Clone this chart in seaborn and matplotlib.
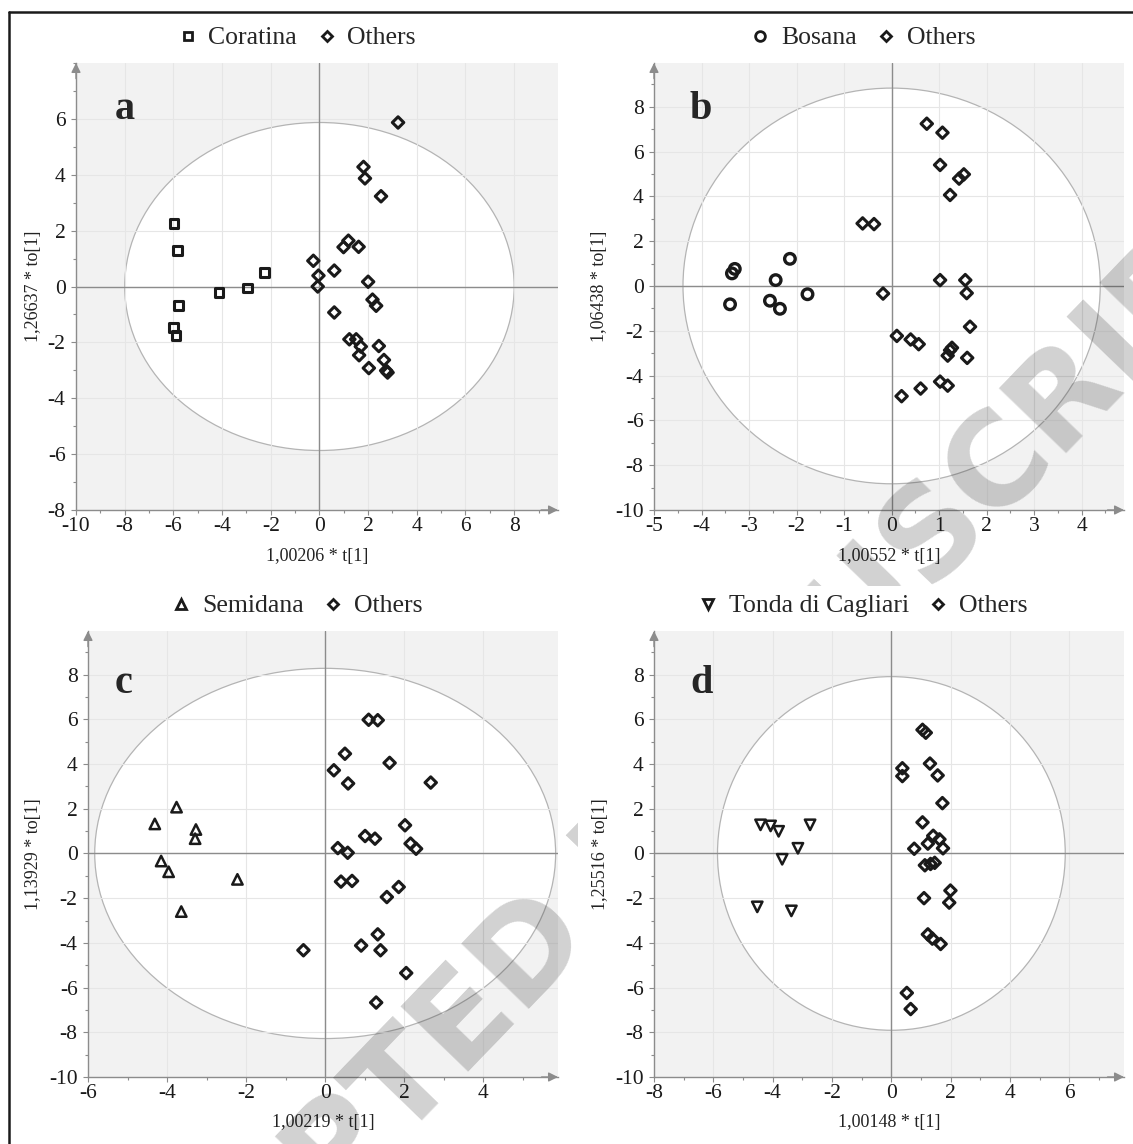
import matplotlib
matplotlib.use("Agg")
import pandas as pd
import matplotlib.pyplot as plt
import seaborn as sns
from matplotlib.patches import Ellipse, Rectangle
from matplotlib.lines import Line2D
from matplotlib.ticker import MultipleLocator

# ---- data ----
# a: Coratina vs others
cor_x = [-5.97, -5.82, -5.79, -6.00, -5.90, -4.12, -2.95, -2.25]
cor_y = [2.26, 1.28, -0.69, -1.46, -1.76, -0.21, -0.05, 0.50]
oth_a_x = [3.23, 1.81, 1.87, 2.53, 1.19, 0.99, 1.61, -0.25, -0.04, -0.07, 0.61, 2.00,
           2.18, 2.33, 0.61, 1.23, 1.51, 1.70, 1.63, 2.44, 2.65, 2.03, 2.74, 2.80]
oth_a_y = [5.87, 4.28, 3.87, 3.23, 1.64, 1.41, 1.42, 0.92, 0.39, 0.00, 0.57, 0.17,
           -0.47, -0.69, -0.93, -1.89, -1.89, -2.15, -2.46, -2.13, -2.63, -2.92, -3.01, -3.08]

# b: Bosana vs others
bos_x = [-3.40, -3.36, -3.30, -2.44, -2.14, -2.56, -2.35, -1.77]
bos_y = [-0.82, 0.56, 0.76, 0.26, 1.21, -0.66, -1.02, -0.37]
oth_b_x = [0.74, 1.07, 1.02, 1.52, 1.42, 1.23, -0.61, -0.37, -0.18, 1.02, 1.55, 1.58,
           1.65, 0.11, 0.40, 0.57, 1.27, 1.23, 1.18, 1.59, 1.02, 1.18, 0.61, 0.21]
oth_b_y = [7.24, 6.84, 5.40, 4.98, 4.79, 4.06, 2.79, 2.76, -0.34, 0.26, 0.26, -0.32,
           -1.82, -2.23, -2.39, -2.60, -2.76, -2.87, -3.11, -3.21, -4.27, -4.45, -4.58, -4.92]

# c: Semidana vs others
sem_x = [-4.31, -3.76, -3.27, -3.29, -4.15, -3.96, -3.64, -2.22]
sem_y = [1.32, 2.07, 1.07, 0.66, -0.34, -0.82, -2.60, -1.16]
oth_c_x = [1.10, 1.33, 0.50, 1.63, 0.22, 0.58, 2.67, 2.02, 1.01, 1.26, 2.16, 2.30,
           0.32, 0.57, 0.40, 0.68, 1.86, 1.56, -0.55, 0.91, 1.33, 1.40, 2.05, 1.29]
oth_c_y = [5.98, 5.96, 4.46, 4.05, 3.72, 3.13, 3.17, 1.26, 0.78, 0.66, 0.44, 0.21,
           0.24, 0.03, -1.26, -1.23, -1.50, -1.95, -4.33, -4.12, -3.62, -4.33, -5.35, -6.67]

# d: Tonda di Cagliari vs others
ton_x = [-4.41, -4.07, -3.80, -2.74, -3.15, -3.68, -4.52, -3.37]
ton_y = [1.28, 1.23, 0.99, 1.28, 0.23, -0.26, -2.39, -2.57]
oth_d_x = [1.05, 1.16, 0.37, 0.37, 1.30, 1.56, 1.72, 1.05, 1.41, 1.62, 1.23, 0.77,
           1.74, 1.13, 1.32, 1.46, 1.10, 1.99, 1.95, 1.23, 1.38, 1.66, 0.52, 0.65]
oth_d_y = [5.53, 5.40, 3.81, 3.46, 4.02, 3.49, 2.25, 1.39, 0.79, 0.63, 0.44, 0.21,
           0.23, -0.53, -0.47, -0.42, -2.00, -1.66, -2.20, -3.62, -3.81, -4.05, -6.24, -6.96]

groups = ["Coratina", "Bosana", "Semidana", "Tonda di Cagliari"]
letters = ["a", "b", "c", "d"]
x_labels = ["1,00206 * t[1]", "1,00552 * t[1]", "1,00219 * t[1]", "1,00148 * t[1]"]
y_labels = ["1,26637 * to[1]", "1,06438 * to[1]", "1,13929 * to[1]", "1,25516 * to[1]"]
ell_rx = [8.0, 4.39, 5.83, 5.86]     # Hotelling T2 ellipse half-widths
ell_ry = [5.87, 8.83, 8.28, 7.91]

group_xy = [(cor_x, cor_y), (bos_x, bos_y), (sem_x, sem_y), (ton_x, ton_y)]
other_xy = [(oth_a_x, oth_a_y), (oth_b_x, oth_b_y), (oth_c_x, oth_c_y), (oth_d_x, oth_d_y)]

# ---- layout / style (pixels of the 1133x1144 canvas) ----
W, H = 1133, 1144
boxes = [(76, 63, 558, 510), (654, 63, 1124, 510), (88, 631, 558, 1077), (654, 631, 1124, 1077)]
xlims = [(-10, 9.8), (-5, 4.89), (-6, 5.89), (-8, 7.84)]
ylims = [(-8, 8.0), (-10, 9.95), (-10, 9.95), (-10, 9.95)]
xticks = [range(-10, 9, 2), range(-5, 5), range(-6, 5, 2), range(-8, 7, 2)]
yticks = [range(-8, 7, 2), range(-10, 9, 2), range(-10, 9, 2), range(-10, 9, 2)]
xminor = [1, 0.5, 1, 1]
ylab_x = [-0.071, -0.098, -0.098, -0.096]
markers = ["s", "o", "^", "v"]
msizes = [38, 58, 56, 56]
mlws = [2.2, 2.4, 1.8, 1.8]
leg_ms = [6.0, 7.0, 7.5, 7.5]
letter_pos = [(115, 119), (690, 119), (115, 693), (690, 693)]
legend_pos = [(296, 38), (862, 38), (296, 606), (862, 606)]

sns.set_theme(style="white")
plt.rcParams["font.family"] = ["Liberation Serif", "DejaVu Serif"]
plt.rcParams["axes.unicode_minus"] = False

axis_gray = "#8c8c8c"
fig = plt.figure(figsize=(W / 100, H / 100), dpi=100)

for i in range(4):
    l, t, r, b = boxes[i]
    ax = fig.add_axes([l / W, 1 - b / H, (r - l) / W, (b - t) / H])
    ax.set_facecolor("#f2f2f2")
    ax.set_axisbelow(True)
    ax.grid(True, which="major", color="#e6e6e6", lw=0.8)
    ax.add_patch(Ellipse((0, 0), 2 * ell_rx[i], 2 * ell_ry[i], fc="white",
                         ec="#b4b4b4", lw=0.9, zorder=0.3))
    ax.axhline(0, color=axis_gray, lw=1.0, zorder=1)
    ax.axvline(0, color=axis_gray, lw=1.0, zorder=1)

    gx, gy = group_xy[i]
    ox, oy = other_xy[i]
    sns.scatterplot(x=ox, y=oy, marker="D", s=34, facecolor="none", edgecolor="k",
                    linewidth=2.2, ax=ax, zorder=3, legend=False)
    sns.scatterplot(x=gx, y=gy, marker=markers[i], s=msizes[i], facecolor="none",
                    edgecolor="k", linewidth=mlws[i], ax=ax, zorder=3, legend=False)

    ax.set_xlim(*xlims[i])
    ax.set_ylim(*ylims[i])
    ax.set_xticks(list(xticks[i]))
    ax.set_yticks(list(yticks[i]))
    ax.xaxis.set_minor_locator(MultipleLocator(xminor[i]))
    ax.yaxis.set_minor_locator(MultipleLocator(1))
    for s in ["top", "right"]:
        ax.spines[s].set_visible(False)
    for s in ["left", "bottom"]:
        ax.spines[s].set_color(axis_gray)
        ax.spines[s].set_linewidth(1.0)
    ax.tick_params(which="both", direction="out", color=axis_gray, width=0.8,
                   labelsize=15.5, labelcolor="k")
    ax.tick_params(which="major", length=3.5)
    ax.tick_params(which="minor", length=2.2)
    ax.tick_params(axis="x", which="both", bottom=True, pad=1.5)
    ax.tick_params(axis="y", which="both", left=True, pad=4)

    ax.annotate("", xy=(0, 1), xytext=(0, 0.965), xycoords="axes fraction",
                arrowprops=dict(arrowstyle="-|>", color=axis_gray, lw=1.0,
                                mutation_scale=14, shrinkA=0, shrinkB=0))
    ax.annotate("", xy=(1, 0), xytext=(0.965, 0), xycoords="axes fraction",
                arrowprops=dict(arrowstyle="-|>", color=axis_gray, lw=1.0,
                                mutation_scale=14, shrinkA=0, shrinkB=0))

    ax.set_xlabel(x_labels[i], fontsize=13, color="#222222")
    ax.set_ylabel(y_labels[i], fontsize=13, color="#222222")
    ax.xaxis.set_label_coords(0.5, -0.084)
    ax.yaxis.set_label_coords(ylab_x[i], 0.5)

    handles = [Line2D([], [], ls="none", marker=markers[i], ms=leg_ms[i], mfc="none",
                      mec="k", mew=2.0),
               Line2D([], [], ls="none", marker="D", ms=5.0, mfc="none", mec="k", mew=2.0)]
    lx, ly = legend_pos[i]
    ax.legend(handles, [groups[i], "Others"], loc="center", ncol=2, frameon=False,
              bbox_to_anchor=(lx / W, 1 - ly / H), bbox_transform=fig.transFigure,
              fontsize=18.5, handletextpad=0.35, columnspacing=0.7, handlelength=0.9,
              borderpad=0, borderaxespad=0)

    px, py = letter_pos[i]
    fig.text(px / W, 1 - py / H, letters[i], fontsize=29, fontweight="bold",
             ha="left", va="baseline", zorder=8)

    if i == 3:
        ax.set_zorder(7)

# journal watermark, hidden behind the last panel as in the source page
fig.text(680 / W, 1 - 852 / H, "ACCEPTED MANUSCRIPT", rotation=46, rotation_mode="anchor",
         ha="center", va="baseline", fontsize=92, fontweight="bold",
         family="DejaVu Sans", color="k", alpha=0.2, zorder=5)
fig.add_artist(Rectangle((578 / W, 0), 1 - 578 / W, 1 - 586 / H, transform=fig.transFigure,
                         fc="white", ec="none", zorder=6))

# page frame
fig.add_artist(Line2D([9 / W, 1], [1 - 12 / H, 1 - 12 / H], transform=fig.transFigure,
                      color="k", lw=1.8, zorder=10))
fig.add_artist(Line2D([9 / W, 9 / W], [0, 1 - 12 / H], transform=fig.transFigure,
                      color="k", lw=1.8, zorder=10))

fig.savefig("out.png", dpi=100)
